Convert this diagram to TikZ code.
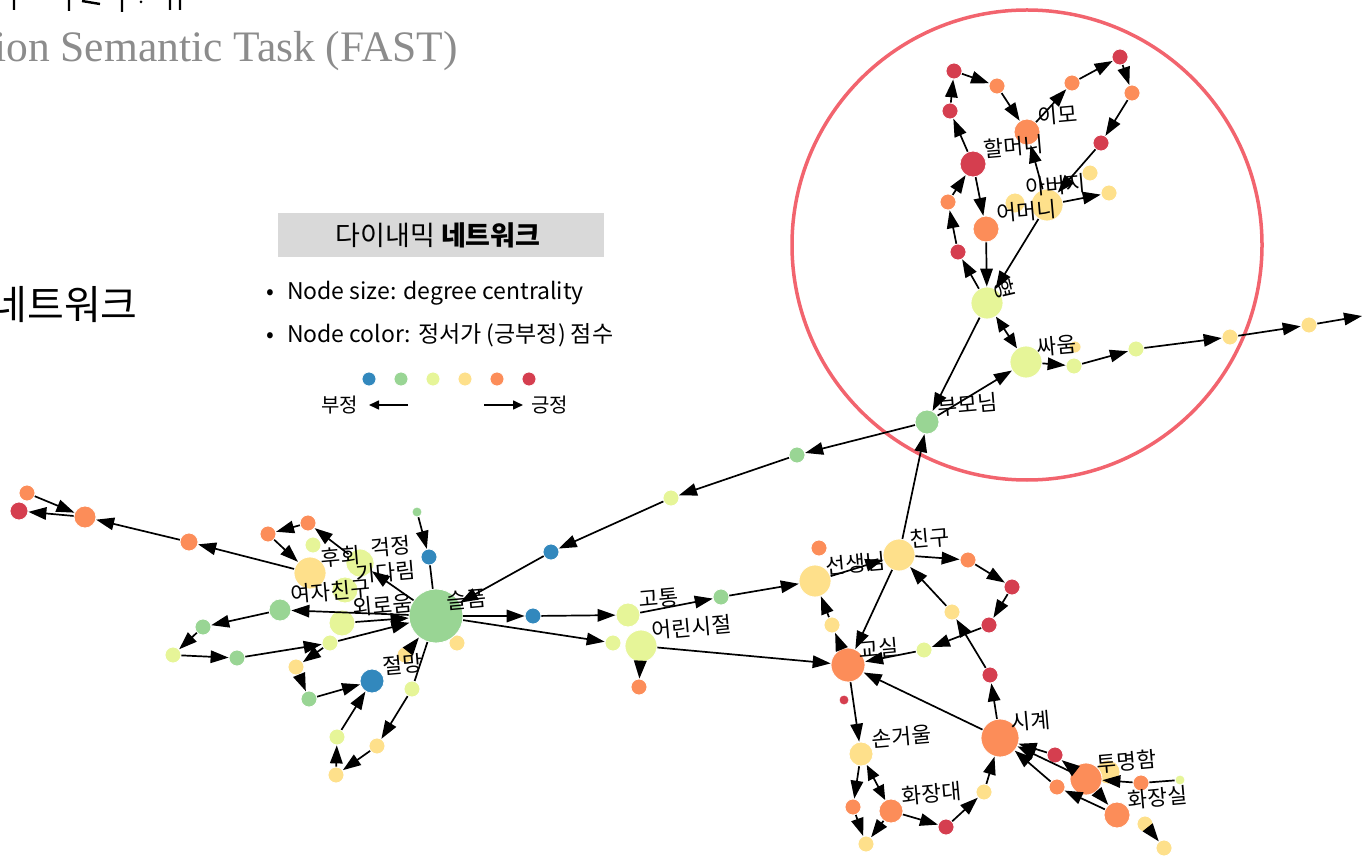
\documentclass[tikz,border=0pt]{standalone}
\usepackage{fontspec}
\usetikzlibrary{arrows.meta}
\newfontfamily\kr{Noto Sans CJK KR}
\newfontfamily\ser{Liberation Serif}
\definecolor{cB}{HTML}{3288BD}
\definecolor{cG}{HTML}{99D594}
\definecolor{cY}{HTML}{E6F598}
\definecolor{cE}{HTML}{FEE08B}
\definecolor{cO}{HTML}{FC8D59}
\definecolor{cR}{HTML}{D53E4F}
\definecolor{ring}{HTML}{F2646E}
\tikzset{
  x=1pt, y=-1pt,
  dot/.style={circle,inner sep=0pt,draw=white,line width=0.8pt},
  e/.style={-{Triangle[length=18pt,width=12.5pt]},line width=1.7pt},
  ee/.style={{Triangle[length=15pt,width=12pt]}-{Triangle[length=15pt,width=12pt]},line width=1.7pt},
  ln/.style={line width=1.7pt},
  lab/.style={font=\kr\fontsize{21.5}{22}\selectfont,rotate=5,anchor=west,inner sep=0pt},
  leg/.style={font=\kr\fontsize{23}{23}\selectfont,inner sep=0pt},
}
\newcommand\nd[4]{\node[dot,fill=#4,minimum size=#3*2] (#1) at (#2) {};}
\newcommand\lb[2]{\node[lab] at ([shift={(11,-15)}]#1.center) {#2};}
\begin{document}
\begin{tikzpicture}
\useasboundingbox (0,0) rectangle (1363,858);
\clip (0,0) rectangle (1363,858);
% header fragments
\draw[line width=2.4pt] (14,0)--(14,10) (69,0)--(69,11) (82,1)--(100,4) (122,0)--(122,12) (170,0)--(170,10) (180,0)--(180,10);
\fill (141,2) circle [radius=1.5];
\node[anchor=base west,inner sep=0pt,text=black!45,font=\ser\fontsize{43.5}{44}\selectfont] (ttl) at (-6,62) {ion Semantic Task (FAST)};
\node[anchor=east,inner sep=0pt,font=\kr\fontsize{40}{40}\selectfont] (nw) at (138,305) {네트워크};
% legend
\node[fill=black!15,minimum width=326,minimum height=44,inner sep=0pt] (lbox) at (441,235) {};
\node[leg,font=\kr\fontsize{27}{27}\selectfont] (ltitle) at (438,235) {다이내믹 \textbf{네트워크}};
\node[leg,anchor=west] (lb1) at (266,293) {•\hspace{13pt}Node size: degree centrality};
\node[leg,anchor=west] (lb2) at (266,335) {•\hspace{13pt}Node color: 정서가 (긍부정) 점수};
\nd{k1l}{369,379}{7}{cB}\nd{k2l}{401,379}{7}{cG}\nd{k3l}{433,379}{7}{cY}
\nd{k4l}{465,379}{7}{cE}\nd{k5l}{497,379}{7}{cO}\nd{k6l}{529,379}{7}{cR}
\node[leg,anchor=east,font=\kr\fontsize{20}{20}\selectfont] (neg) at (358,405) {부정};
\node[leg,anchor=west,font=\kr\fontsize{20}{20}\selectfont] (pos) at (531,405) {긍정};
\coordinate (na) at (408,405); \coordinate (nb) at (369,405);
\coordinate (pa) at (484,405); \coordinate (pb) at (523,405);
\draw[-{Triangle[length=10pt,width=9pt]},line width=1.6pt] (na)--(nb);
\draw[-{Triangle[length=10pt,width=9pt]},line width=1.6pt] (pa)--(pb);
% ring
\draw[ring,line width=3.5pt] (1027,245) circle [radius=235];
% ---------- nodes ----------
\nd{a1}{27,493}{8}{cO}\nd{a2}{19,511}{9}{cR}\nd{a3}{85,517}{11}{cO}\nd{a4}{189,542}{9}{cO}
\nd{b1}{268,534}{8}{cO}\nd{b2}{308,523}{8}{cO}\nd{b3}{313,545}{8}{cY}
\nd{gj}{360,563}{14}{cY}\nd{gd}{345,590}{13}{cY}\nd{hu}{310,573}{16}{cE}
\nd{yc}{280,610}{11}{cG}\nd{wr}{342,623}{13}{cY}
\nd{s1}{417,512}{5}{cG}\nd{s2}{429,557}{8}{cB}\nd{s3}{457,643}{8}{cE}
\nd{sp}{436,616}{27}{cG}
\nd{c1}{203,627}{8}{cG}\nd{c2}{173,655}{8}{cY}\nd{c3}{237,658}{8}{cG}\nd{c4}{330,643}{8}{cY}
\nd{c5}{296,667}{8}{cE}\nd{c6}{309,699}{8}{cG}\nd{c11}{405,655}{8}{cE}\nd{jm}{372,681}{12}{cB}
\nd{c7}{337,737}{8}{cY}\nd{c8}{336,775}{8}{cE}\nd{c9}{377,746}{8}{cE}\nd{c10}{412,689}{8}{cY}
\nd{d1}{533,616}{8}{cB}\nd{gt}{628,615}{12}{cY}\nd{e1}{613,643}{8}{cY}\nd{ee}{641,646}{16}{cY}
\nd{e2}{639,687}{8}{cO}\nd{f1}{721,597}{8}{cG}
\nd{m1}{551,552}{8}{cB}\nd{m2}{671,498}{8}{cY}\nd{m3}{797,455}{8}{cG}
\nd{ss0}{819,548}{8}{cO}\nd{ss}{815,581}{16}{cE}\nd{ch}{899,555}{16}{cE}
\nd{g1}{968,560}{8}{cO}\nd{g2}{1012,587}{8}{cR}\nd{g3}{989,625}{8}{cR}\nd{g4}{924,650}{8}{cY}
\nd{g5}{952,612}{8}{cE}\nd{g6}{990,675}{8}{cR}
\nd{gs}{848,665}{17}{cO}\nd{k1}{832,625}{8}{cE}\nd{k2}{844,700}{5}{cR}
\nd{sg}{1000,738}{19}{cO}\nd{sh}{861,754}{12}{cE}\nd{h1}{853,807}{8}{cO}\nd{hj}{891,811}{12}{cO}
\nd{h2}{866,844}{8}{cE}\nd{h3}{946,827}{8}{cR}\nd{h4}{984,792}{8}{cE}
\nd{iy}{1108,772}{12}{cE}\nd{i1}{1055,755}{8}{cR}\nd{tm}{1086,779}{16}{cO}\nd{i2}{1057,787}{8}{cO}
\nd{i3}{1141,783}{8}{cO}\nd{i4}{1180,780}{5}{cY}\nd{hs}{1117,815}{13}{cO}
\nd{i5}{1145,824}{8}{cE}\nd{i6}{1164,848}{8}{cE}
\nd{u1}{954,71}{8}{cR}\nd{u2}{997,86}{8}{cO}\nd{u3}{950,111}{8}{cR}\nd{im}{1027,132}{13}{cO}
\nd{u4}{1072,83}{8}{cO}\nd{u5}{1120,57}{8}{cR}\nd{u6}{1132,93}{8}{cO}\nd{u7}{1101,143}{8}{cR}
\nd{hm}{973,164}{13}{cR}\nd{u8}{1090,173}{8}{cE}\nd{u9}{1109,193}{8}{cE}
\nd{bg}{1047,205}{16}{cE}\nd{ab}{1015,203}{10}{cE}\nd{em}{986,229}{13}{cO}
\nd{u10}{948,202}{8}{cO}\nd{u11}{958,252}{8}{cR}\nd{hy}{987,303}{16}{cY}
\nd{sw1}{1075,347}{6}{cE}\nd{sw}{1026,362}{16}{cY}\nd{v1}{1074,366}{8}{cY}
\nd{v2}{1136,349}{8}{cY}\nd{v3}{1230,337}{8}{cE}\nd{v4}{1309,325}{8}{cE}
\coordinate (vend) at (1362,316);
\nd{bm}{927,422}{12}{cG}
% ---------- edges ----------
\draw[e] (a1)--(a3); \draw[e] (a3)--(a2); \draw[e] (a4)--(a3); \draw[e] (hu)--(a4);
\draw[e] (b2)--(b1); \draw[e] (b1)--(hu); \draw[e] (gj)--(b2); \draw[e] (sp)--(gj);
\draw[e] (s1)--(s2); \draw[ln] (s2)--(sp);
\draw[e] (sp)--(yc); \draw[e] (wr)--(sp); \draw[e] (c4)--(sp); \draw[e] (c11)--(sp);
\draw[e] (yc)--(c1); \draw[e] (c1)--(c2); \draw[e] (c2)--(c3); \draw[e] (c3)--(c4);
\draw[e] (c4)--(c5); \draw[e] (c5)--(c6); \draw[e] (c6)--(jm); \draw[e] (c7)--(jm);
\draw[e] (c8)--(c7); \draw[e] (c9)--(c8); \draw[e] (c10)--(c9); \draw[ln] (sp)--(c10);
\draw[e] (sp)--(d1); \draw[e] (d1)--(gt); \draw[e] (sp)--(e1); \draw[e] (ee)--(e2); \draw[e] (ee)--(gs);
\draw[e] (gt)--(f1); \draw[e] (f1)--(ss);
\draw[e] (m1)--(sp); \draw[e] (m2)--(m1); \draw[e] (m3)--(m2); \draw[e] (bm)--(m3);
\draw[e] (ss)--(ch); \draw[e] (ch)--(bm); \draw[e] (ch)--(gs); \draw[e] (ch)--(g1);
\draw[e] (g1)--(g2); \draw[e] (g2)--(g3); \draw[e] (g3)--(g4); \draw[e] (g4)--(gs);
\draw[e] (g5)--(ch); \draw[e] (g6)--(g5); \draw[e] (sg)--(g6); \draw[e] (sg)--(gs);
\draw[e] (k1)--(ss); \draw[e] (gs)--(k1); \draw[e] (gs)--(sh);
\draw[e] (sh)--(h1); \draw[ee] (sh)--(hj); \draw[e] (h1)--(h2); \draw[e] (hj)--(h2);
\draw[e] (hj)--(h3); \draw[e] (h3)--(h4); \draw[e] (h4)--(sg);
\draw[e] (i1)--(sg); \draw[e] (tm)--(sg); \draw[e] (i2)--(sg); \draw[e] (hs)--(i2);
\draw[e] (tm)--(hs); \draw[e] (i3)--(tm); \draw[ln] (i4)--(i3); \draw[e] (i5)--(i6); \draw[e] (tm)--(i1);
\draw[e] (u3)--(u1); \draw[e] (u1)--(u2); \draw[e] (u2)--(im); \draw[e] (hm)--(u3);
\draw[e] (im)--(u4); \draw[e] (u4)--(u5); \draw[e] (u5)--(u6); \draw[e] (u6)--(u7);
\draw[e] (u7)--(bg); \draw[e] (bg)--(im); \draw[e] (bg)--(u9); \draw[e] (bg)--(hy);
\draw[e] (em)--(hy); \draw[e] (hm)--(em); \draw[e] (u10)--(hm); \draw[e] (u11)--(u10);
\draw[e] (hy)--(u11); \draw[ee] (hy)--(sw); \draw[e] (hy)--(bm); \draw[e] (bm)--(sw);
\draw[e] (sw)--(v1); \draw[e] (v1)--(v2); \draw[e] (v2)--(v3); \draw[e] (v3)--(v4); \draw[e] (v4)--(vend);
% ---------- labels ----------
\lb{hu}{후회} \lb{gj}{걱정} \lb{gd}{기다림} \lb{yc}{여자친구} \lb{wr}{외로움}
\lb{sp}{슬픔} \lb{jm}{절망} \lb{gt}{고통} \lb{ee}{어린시절}
\lb{ss}{선생님} \lb{ch}{친구} \lb{gs}{교실} \lb{sg}{시계} \lb{sh}{손거울} \lb{hj}{화장대}
\lb{tm}{투명함} \lb{hs}{화장실}
\lb{im}{이모} \lb{hm}{할머니} \lb{ab}{아버지} \lb{em}{어머니} \lb{sw}{싸움} \lb{bm}{부모님}
\node[lab,rotate=-82,anchor=center] at ([shift={(18,-14)}]hy.center) {형};
\end{tikzpicture}
\end{document}
